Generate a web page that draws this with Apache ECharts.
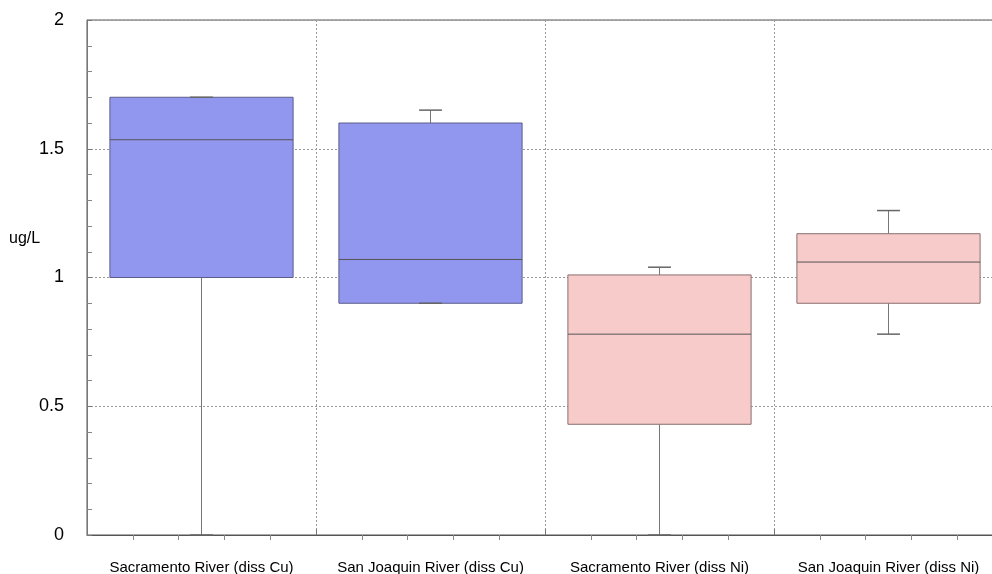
<!DOCTYPE html>
<html>
<head>
<meta charset="utf-8">
<script src="https://cdn.jsdelivr.net/npm/echarts@6/dist/echarts.min.js"></script>
<style>
  html, body { margin: 0; padding: 0; background: #fff; }
  #chart { width: 992px; height: 574px; }
</style>
</head>
<body>
<div id="chart"></div>
<script>
// Sites and measured parameters
const categories = [
  'Sacramento River (diss Cu)',
  'San Joaquin River (diss Cu)',
  'Sacramento River (diss Ni)',
  'San Joaquin River (diss Ni)'
];
// Box statistics (ug/L)
const lowValues    = [0.00, 0.90, 0.00, 0.78];
const q1Values     = [1.00, 0.90, 0.43, 0.90];
const medianValues = [1.535, 1.07, 0.78, 1.06];
const q3Values     = [1.70, 1.60, 1.01, 1.17];
const highValues   = [1.70, 1.65, 1.04, 1.26];
// 0 = copper (blue), 1 = nickel (pink)
const groupIndex   = [0, 0, 1, 1];

const yTicks = [0, 0.5, 1, 1.5, 2];

const fills   = ['#9196ee', '#f8cbcb'];
const borders = ['#5c5c8a', '#8a6e6e'];
const FONT = 'Liberation Sans, Arial, sans-serif';

const boxData = categories.map((c, i) => [
  i, lowValues[i], q1Values[i], medianValues[i], q3Values[i], highValues[i], groupIndex[i]
]);

function renderBox(params, api) {
  const idx = api.value(0);
  const low = api.coord([idx, api.value(1)]);
  const q1 = api.coord([idx, api.value(2)]);
  const med = api.coord([idx, api.value(3)]);
  const q3 = api.coord([idx, api.value(4)]);
  const high = api.coord([idx, api.value(5)]);
  const g = api.value(6);
  const band = api.size([1, 0])[0];
  const w = band * 0.8;
  const cap = band * 0.1;
  const x = q1[0];
  const whisker = { stroke: '#777', lineWidth: 1 };
  return {
    type: 'group',
    children: [
      { type: 'line', shape: { x1: x, y1: q3[1], x2: x, y2: high[1] }, style: whisker },
      { type: 'line', shape: { x1: x, y1: q1[1], x2: x, y2: low[1] }, style: whisker },
      {
        type: 'rect',
        shape: { x: x - w / 2, y: q3[1], width: w, height: q1[1] - q3[1] },
        style: { fill: fills[g], stroke: borders[g], lineWidth: 1 }
      },
      { type: 'line', shape: { x1: x - w / 2, y1: med[1], x2: x + w / 2, y2: med[1] }, style: { stroke: '#555', lineWidth: 1 } },
      { type: 'line', shape: { x1: x - cap / 2, y1: high[1], x2: x + cap / 2, y2: high[1] }, style: { stroke: '#666', lineWidth: 1.5 } },
      { type: 'line', shape: { x1: x - cap / 2, y1: low[1], x2: x + cap / 2, y2: low[1] }, style: { stroke: '#666', lineWidth: 1.5 } }
    ]
  };
}

const chart = echarts.init(document.getElementById('chart'), null, { renderer: 'canvas' });
chart.setOption({
  animation: false,
  backgroundColor: '#fff',
  textStyle: { fontFamily: FONT },
  grid: {
    left: 87, top: 20, width: 916, height: 515,
    outerBoundsMode: 'none',
    containLabel: false,
    show: true, borderColor: '#555', borderWidth: 1, backgroundColor: 'transparent'
  },
  graphic: [{
    type: 'text', left: 9, top: 231,
    style: { text: 'ug/L', fontSize: 16, fill: '#000', fontFamily: FONT }
  }],
  xAxis: [{
    type: 'category',
    data: categories,
    position: 'bottom',
    boundaryGap: true,
    axisLine: { show: true, lineStyle: { color: '#555', width: 1 } },
    axisTick: { show: true, inside: true, length: 6, lineStyle: { color: '#777' } },
    axisLabel: { fontSize: 15, color: '#000', margin: 25, interval: 0, fontFamily: FONT },
    splitLine: { show: true, lineStyle: { color: '#999', type: [2, 2], width: 1 } }
  }, {
    type: 'value',
    position: 'bottom',
    min: 0, max: 4, interval: 1,
    axisLine: { show: false },
    axisLabel: { show: false },
    axisTick: { show: false },
    splitLine: { show: false },
    minorTick: { show: true, splitNumber: 5, length: 5, lineStyle: { color: '#888' } },
    minorSplitLine: { show: false }
  }],
  yAxis: {
    type: 'value',
    min: yTicks[0], max: yTicks[yTicks.length - 1], interval: 0.5,
    axisLine: { show: true, lineStyle: { color: '#777', width: 1 } },
    axisTick: { show: true, inside: true, length: 5, lineStyle: { color: '#777' } },
    minorTick: { show: true, splitNumber: 5, length: 5, lineStyle: { color: '#888' } },
    axisLabel: {
      fontSize: 18, color: '#000', margin: 23, align: 'right', fontFamily: FONT,
      formatter: v => String(v)
    },
    splitLine: { show: true, lineStyle: { color: '#999', type: [2, 2], width: 1 } }
  },
  series: [{
    type: 'custom',
    xAxisIndex: 0,
    renderItem: renderBox,
    encode: { x: 0, y: [1, 2, 3, 4, 5] },
    data: boxData,
    z: 3
  }]
});
</script>
</body>
</html>
